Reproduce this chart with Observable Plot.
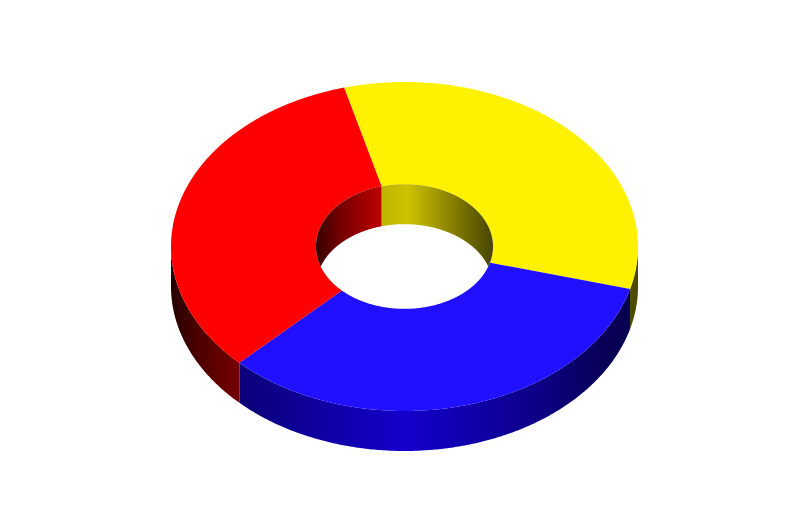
<!DOCTYPE html>
<html>
<head>
<meta charset="utf-8">
<style>html,body{margin:0;padding:0;background:#fff}svg{display:block}</style>
<script src="https://cdn.jsdelivr.net/npm/d3@7"></script>
<script src="https://cdn.jsdelivr.net/npm/@observablehq/plot@0.6"></script>
</head>
<body>
<script>
// Chart data: three equal slices, clockwise from the start angle
const categories = ["A", "B", "C"];
const values = [1, 1, 1];
const colors = ["#fff200", "#2010ff", "#ff0000"];
const wallColors = ["#fff200", "#1800ff", "#ff0000"];
const startAngle = -15;

// Ring shape, in units of the outer radius
const innerRatio = 88.5 / 233.5;
const tilt = 164.5 / 233.5;
const depth = 40 / 233.5;
const outerShade = [[-1, .15], [-.875, .31], [-.7, .47], [0, .8], [.58, .52], [.84, .34], [1, .3]];
const innerShade = [[-1, .22], [-.73, .45], [-.25, .75], [.05, .8], [.5, .55], [1, .28]];

const rad = (d) => d * Math.PI / 180;
const total = d3.sum(values);
let acc = startAngle;
const slices = categories.map((c, i) => {
  const a0 = acc;
  acc += values[i] / total * 360;
  return {c, i, a0, a1: acc, color: colors[i], wall: wallColors[i]};
});
const tint = (color, k) => {
  const c = d3.rgb(color);
  return d3.rgb(c.r * k, c.g * k, c.b * k).formatHex();
};
const pt = (r, a, dz = 0) => [r * Math.sin(rad(a)), -r * tilt * Math.cos(rad(a)) + dz];
const arcAngles = (a0, a1) => {
  const n = Math.ceil((a1 - a0) / 0.5);
  return d3.range(n + 1).map((k) => a0 + (a1 - a0) * k / n);
};

const polys = [];
const add = (id, color, points) => {
  for (const [x, y] of points) polys.push({id, color, x, y});
};

// Outer wall: front half of the ring
slices.forEach((s) => {
  for (const off of [0, 360]) {
    const from = Math.max(s.a0 + off, 90), to = Math.min(s.a1 + off, 270);
    if (from >= to) continue;
    const arc = arcAngles(from, to);
    add(`o${s.i}${off}`, `url(#outer${s.i})`, [
      ...arc.map((a) => pt(1, a)),
      ...arc.slice().reverse().map((a) => pt(1, a, depth))
    ]);
  }
});

// Top faces
slices.forEach((s) => {
  const arc = arcAngles(s.a0, s.a1);
  add(`t${s.i}`, s.color, [
    ...arc.map((a) => pt(1, a)),
    ...arc.slice().reverse().map((a) => pt(innerRatio, a))
  ]);
});

// Inner wall: back half of the hole, cut off by the hole's front rim
slices.forEach((s) => {
  for (const off of [0, -360]) {
    const from = Math.max(s.a0 + off, -90), to = Math.min(s.a1 + off, 90);
    if (from >= to) continue;
    const arc = arcAngles(from, to);
    const foot = (d) => {
      const [x, y] = pt(innerRatio, d);
      return [x, Math.min(y + depth, -y)];
    };
    add(`i${s.i}${off}`, `url(#inner${s.i})`, [
      ...arc.map((a) => pt(innerRatio, a)),
      ...arc.slice().reverse().map(foot)
    ]);
  }
});

const unit = 233.5, cx = 404, cy = 246;
const chart = Plot.plot({
  width: 808,
  height: 519,
  margin: 0,
  axis: null,
  x: {domain: [-cx / unit, (808 - cx) / unit], range: [0, 808]},
  y: {domain: [-cy / unit, (519 - cy) / unit], range: [0, 519]},
  color: {type: "identity"},
  marks: [
    Plot.line(polys, {
      x: "x", y: "y", z: "id", fill: "color", stroke: "none",
      curve: "linear-closed"
    })
  ]
});

// Wall shading: horizontal gradients placed with the chart's own x scale
const xScale = chart.scale("x");
const defs = d3.select(chart).insert("defs", ":first-child");
const gradient = (id, color, stops, r) => {
  const g = defs.append("linearGradient").attr("id", id)
    .attr("gradientUnits", "userSpaceOnUse")
    .attr("x1", xScale.apply(-r)).attr("x2", xScale.apply(r))
    .attr("y1", 0).attr("y2", 0);
  for (const [t, k] of stops) {
    g.append("stop").attr("offset", (t + 1) / 2).attr("stop-color", tint(color, k));
  }
};
slices.forEach((s) => {
  gradient(`outer${s.i}`, s.wall, outerShade, 1);
  gradient(`inner${s.i}`, s.wall, innerShade, innerRatio);
});
document.body.append(chart);
</script>
</body>
</html>
